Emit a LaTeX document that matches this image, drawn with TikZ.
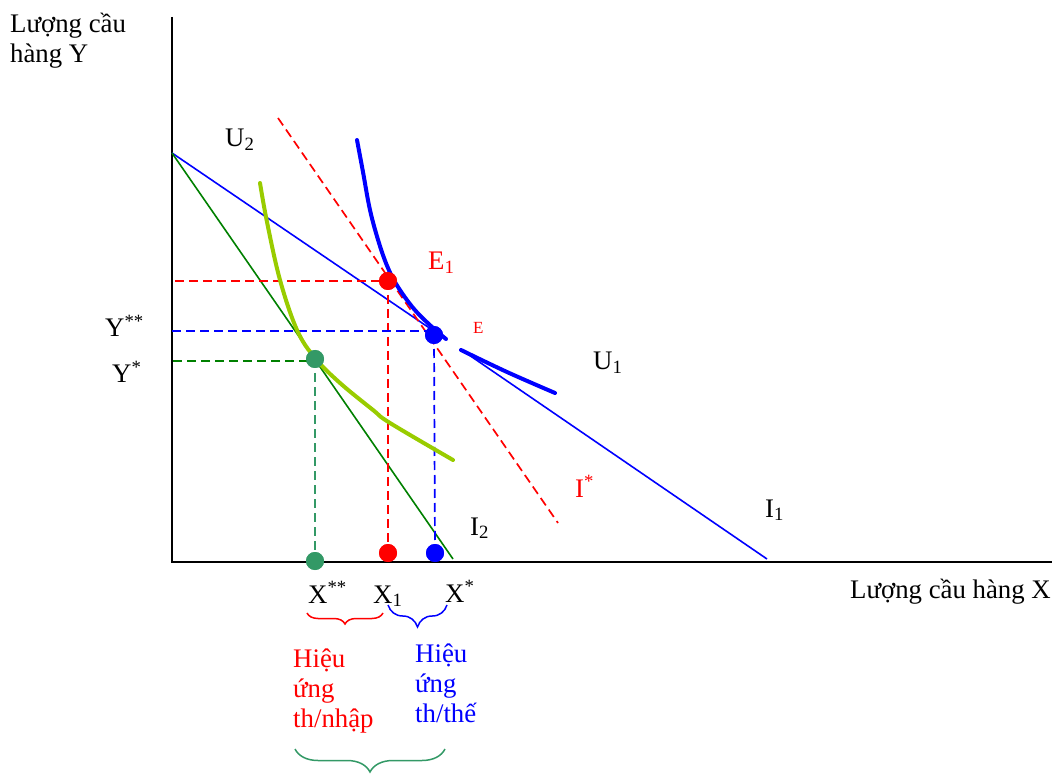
\documentclass[tikz,border=0pt]{standalone}
\usepackage{fontspec}
\setmainfont{Liberation Serif}
\usetikzlibrary{decorations.pathreplacing}
\definecolor{cLime}{HTML}{99CC00}
\definecolor{cSea}{HTML}{339966}
\definecolor{cDkGreen}{HTML}{008000}
\begin{document}
\begin{tikzpicture}[x=1pt,y=-1pt,
  lbl/.style={anchor=base west, inner sep=0pt, font=\fontsize{26.8}{30}\selectfont},
  smalllbl/.style={anchor=base west, inner sep=0pt, font=\fontsize{17}{20}\selectfont},
  dotnode/.style={circle, minimum size=18pt, inner sep=0pt, draw=none},
  dsh/.style={dash pattern=on 9pt off 5pt, line width=1.7pt},
  axisline/.style={line width=2.5pt, black},
  budget/.style={line width=1.6pt},
  indiff/.style={line width=4pt, line cap=round},
  bracestyle/.style={line width=1.5pt, decorate},
]
\useasboundingbox (0,0) rectangle (1052,775);

% axes
\coordinate (o) at (172,562);
\coordinate (ytop) at (172,17);
\coordinate (xend) at (1052,562);
\draw[axisline] (ytop) -- (o) -- (xend);

% budget lines
\coordinate (yint) at (172,153);
\coordinate (i1a) at (445,338.6);
\coordinate (i1b) at (460,348.8);
\coordinate (i1end) at (767,559);
\coordinate (i2end) at (453,559);
\coordinate (isa) at (278,118);
\coordinate (isb) at (558,523);
\draw[budget, blue] (yint) -- (i1a);
\draw[budget, blue] (i1b) -- (i1end);
\draw[budget, cDkGreen] (yint) -- (i2end);
\draw[dsh, red] (isa) -- (isb);

% points
\node[dotnode, fill=red] (e1) at (388,281) {};
\node[dotnode, fill=blue] (e) at (434,335) {};
\node[dotnode, fill=cSea] (g) at (315,359) {};
\node[dotnode, fill=cSea] (gx) at (315,561) {};
\node[dotnode, fill=red] (rx) at (388,553) {};
\node[dotnode, fill=blue] (bx) at (435,553) {};

\coordinate (ry) at (175,281);
\coordinate (by) at (172,331);
\coordinate (gy) at (173,361);

% dashed guides
\draw[dsh, red] (ry) -- (ry -| e1);
\draw[dsh, red] (e1.center) -- (rx.center);
\draw[dsh, blue] (by) -- (by -| e);
\draw[dsh, blue] (e.center) -- (bx.center);
\draw[dsh, cDkGreen] (gy) -- (gy -| g);
\draw[dsh, cSea] (g.center) -- (gx.center);

% indifference curves
\draw[indiff, cLime] plot[smooth, tension=0.6] coordinates {(260,183) (267,222) (280,280) (297,330) (315,358) (340,383) (373,410) (390,423) (453,460)};
\draw[indiff, blue] plot[smooth, tension=0.6] coordinates {(357,140) (363,172) (370,210) (379,243) (388,268) (398,287) (414,309) (432,327) (446,339)};
\draw[indiff, blue] plot[smooth, tension=0.6] coordinates {(461,350) (507,372) (555,393)};

% redraw dots on top
\node[dotnode, fill=red] at (e1) {};
\node[dotnode, fill=blue] at (e) {};
\node[dotnode, fill=cSea] at (g) {};
\node[dotnode, fill=cSea] at (gx) {};
\node[dotnode, fill=red] at (rx) {};
\node[dotnode, fill=blue] at (bx) {};

% axis labels
\node[lbl] (ylab1) at (10,33) {Lượng cầu};
\node[lbl] (ylab2) at (10,63) {hàng Y};
\node[lbl] (xlab) at (850,598) {Lượng cầu hàng X};

% curve labels
\node[lbl] (lu2) at (225,147) {U\textsubscript{2}};
\node[lbl] (lu1) at (593,370) {U\textsubscript{1}};
\node[lbl, red] (le1) at (428,270) {E\textsubscript{1}};
\node[smalllbl, red] (le) at (473,334) {E};
\node[lbl, red] (lis) at (575,497) {I\textsuperscript{*}};
\node[lbl] (li1) at (765,517) {I\textsubscript{1}};
\node[lbl] (li2) at (470,535) {I\textsubscript{2}};

% axis values
\node[lbl] (lyss) at (105,337) {Y\textsuperscript{**}};
\node[lbl] (lys) at (112,383) {Y\textsuperscript{*}};
\node[lbl] (lxss) at (308,603) {X\textsuperscript{**}};
\node[lbl] (lx1) at (373,603) {X\textsubscript{1}};
\node[lbl] (lxs) at (445,602) {X\textsuperscript{*}};

% braces
\coordinate (rba) at (307,613);
\coordinate (rbb) at (383,613);
\coordinate (bba) at (388,605);
\coordinate (bbb) at (447,605);
\coordinate (gba) at (295,749);
\coordinate (gbb) at (445,749);
\draw[bracestyle, red, decoration={brace, amplitude=11pt, mirror}] (rba) -- (rbb);
\draw[bracestyle, blue, decoration={brace, amplitude=22pt, mirror}] (bba) -- (bbb);
\draw[bracestyle, cSea, decoration={brace, amplitude=23pt, mirror}] (gba) -- (gbb);

% effect labels
\node[lbl, red] (r1) at (293,667) {Hiệu};
\node[lbl, red] (r2) at (293,697) {ứng};
\node[lbl, red] (r3) at (293,727) {th/nhập};
\node[lbl, blue] (b1) at (415,662) {Hiệu};
\node[lbl, blue] (b2) at (415,692) {ứng};
\node[lbl, blue] (b3) at (415,722) {th/thế};
\end{tikzpicture}
\end{document}
